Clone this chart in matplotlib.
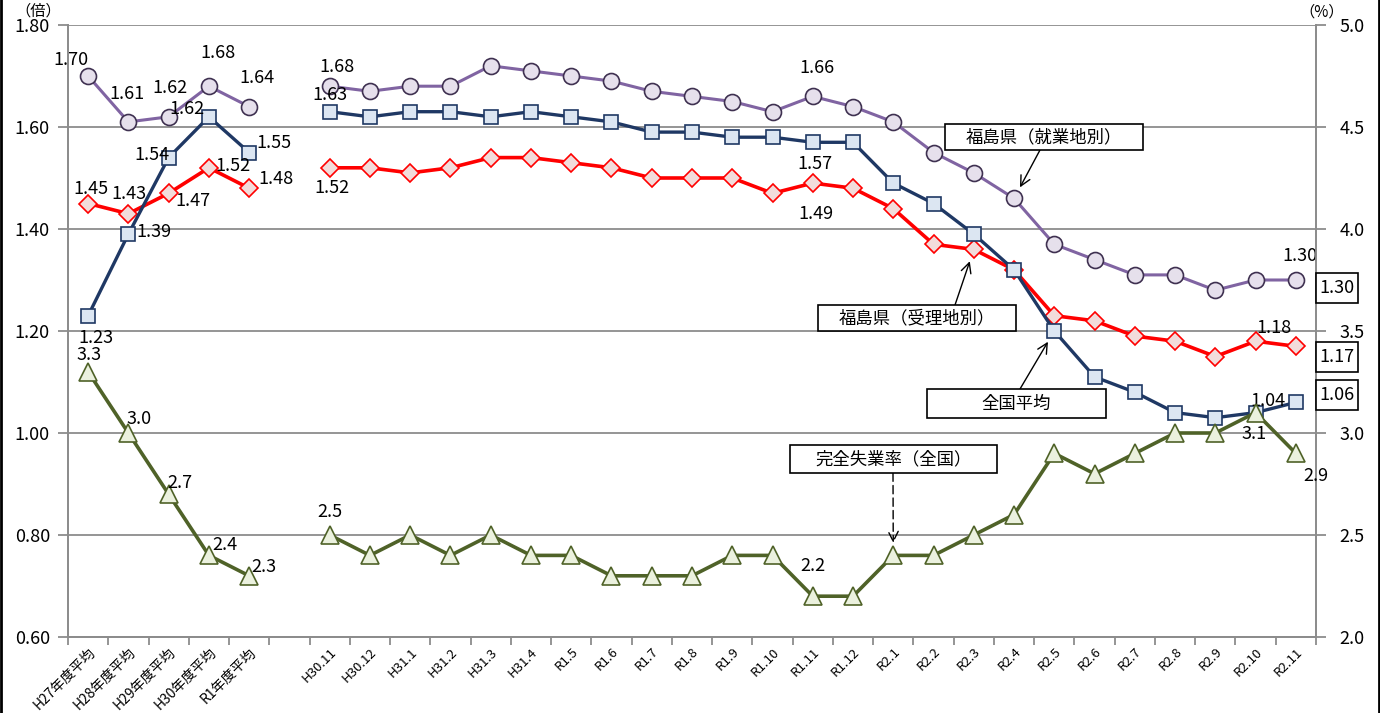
import numpy as np
import matplotlib
matplotlib.use("Agg")
import matplotlib.pyplot as plt
from matplotlib.patches import Rectangle
from matplotlib.lines import Line2D

plt.rcParams['font.family'] = ['Noto Sans CJK JP', 'DejaVu Sans']

categories = ['H27年度平均', 'H28年度平均', 'H29年度平均', 'H30年度平均', 'R1年度平均', '',
              'H30.11', 'H30.12', 'H31.1', 'H31.2', 'H31.3', 'H31.4', 'R1.5', 'R1.6',
              'R1.7', 'R1.8', 'R1.9', 'R1.10', 'R1.11', 'R1.12', 'R2.1', 'R2.2', 'R2.3',
              'R2.4', 'R2.5', 'R2.6', 'R2.7', 'R2.8', 'R2.9', 'R2.10', 'R2.11']

nan = np.nan
# 福島県(就業地別)
shugyo = [1.70, 1.61, 1.62, 1.68, 1.64, nan,
          1.68, 1.67, 1.68, 1.68, 1.72, 1.71, 1.70, 1.69, 1.67, 1.66, 1.65, 1.63,
          1.66, 1.64, 1.61, 1.55, 1.51, 1.46, 1.37, 1.34, 1.31, 1.31, 1.28, 1.30, 1.30]
# 全国平均
zenkoku = [1.23, 1.39, 1.54, 1.62, 1.55, nan,
           1.63, 1.62, 1.63, 1.63, 1.62, 1.63, 1.62, 1.61, 1.59, 1.59, 1.58, 1.58,
           1.57, 1.57, 1.49, 1.45, 1.39, 1.32, 1.20, 1.11, 1.08, 1.04, 1.03, 1.04, 1.06]
# 福島県(受理地別)
juri = [1.45, 1.43, 1.47, 1.52, 1.48, nan,
        1.52, 1.52, 1.51, 1.52, 1.54, 1.54, 1.53, 1.52, 1.50, 1.50, 1.50, 1.47,
        1.49, 1.48, 1.44, 1.37, 1.36, 1.32, 1.23, 1.22, 1.19, 1.18, 1.15, 1.18, 1.17]
# 完全失業率(全国) %
shitsugyo = [3.3, 3.0, 2.7, 2.4, 2.3, nan,
             2.5, 2.4, 2.5, 2.4, 2.5, 2.4, 2.4, 2.3, 2.3, 2.3, 2.4, 2.4,
             2.2, 2.2, 2.4, 2.4, 2.5, 2.6, 2.9, 2.8, 2.9, 3.0, 3.0, 3.1, 2.9]

W, H = 1380, 713
fig = plt.figure(figsize=(W / 100, H / 100), dpi=100)
ax = fig.add_axes([68 / W, (H - 637) / H, (1316 - 68) / W, (637 - 25) / H])
ax2 = ax.twinx()

x = np.arange(len(categories))

c_pur, c_blu, c_red, c_grn = '#8064A2', '#1F3864', '#FF0000', '#4F6228'
ax.plot(x, shugyo, color=c_pur, lw=2.2, marker='o', ms=11.5,
        mfc='#E6E0EC', mec='#3F3151', mew=1.2, zorder=3)
ax.plot(x, juri, color=c_red, lw=2.6, marker='D', ms=9.5,
        mfc='#F2DCDB', mec=c_red, mew=1.2, zorder=4)
ax.plot(x, zenkoku, color=c_blu, lw=2.4, marker='s', ms=10,
        mfc='#DCE6F2', mec=c_blu, mew=1.2, zorder=5)
ax2.plot(x, shitsugyo, color=c_grn, lw=2.6, marker='^', ms=13,
         mfc='#EBF1DE', mec=c_grn, mew=1.2, zorder=3)

ax.set_xlim(-0.5, len(categories) - 0.5)
ax.set_ylim(0.6, 1.8)
ax2.set_ylim(2.0, 5.0)
ax.set_yticks(np.arange(0.6, 1.81, 0.2))
ax.set_yticklabels([f'{v:.2f}' for v in np.arange(0.6, 1.81, 0.2)], fontsize=13)
ax2.set_yticks(np.arange(2.0, 5.01, 0.5))
ax2.set_yticklabels([f'{v:.1f}' for v in np.arange(2.0, 5.01, 0.5)], fontsize=13)

ax.grid(axis='y', color='#8C8C8C', lw=1.3)
ax.set_axisbelow(True)
for a in (ax, ax2):
    a.spines['top'].set_visible(False)
    for s in ('left', 'right', 'bottom'):
        a.spines[s].set_color('#8C8C8C')
        a.spines[s].set_linewidth(1.3)
ax.tick_params(axis='y', length=7, color='#8C8C8C', width=1.3, pad=6)
ax2.tick_params(axis='y', length=7, color='#8C8C8C', width=1.3, pad=10)

ax.set_xticks(x)
ax.set_xticklabels(categories, rotation=45, ha='right', rotation_mode='anchor')
for i, t in enumerate(ax.get_xticklabels()):
    t.set_fontsize(10 if i < 5 else 9.5)
ax.tick_params(axis='x', which='major', length=0, pad=6)
ax.set_xticks(np.arange(-0.5, len(categories), 1), minor=True)
ax.tick_params(axis='x', which='minor', length=6, color='#8C8C8C', width=1.3)

fig.text(38 / W, 1 - 11 / H, '（倍）', fontsize=11, ha='center', va='center')
fig.text(1322 / W, 1 - 12 / H, '（%）', fontsize=11, ha='center', va='center')


def lab(a, series, i, dx, dy, fmt):
    a.annotate(fmt.format(series[i]), (x[i], series[i]), xytext=(dx, dy),
               textcoords='offset pixels', ha='center', va='center',
               fontsize=13, zorder=10)


# data labels (index, dx, dy)
for i, dx, dy in [(0, -17, 16), (1, -1, 28), (2, 1, 29), (3, 9, 33), (4, 8, 29),
                  (6, 7, 19), (18, 4, 28), (30, 4, 24)]:
    lab(ax, shugyo, i, dx, dy, '{:.2f}')
for i, dx, dy in [(0, 8, -22), (1, 26, 2), (2, -17, 3), (3, -22, 8), (4, 25, 10),
                  (6, 0, 17), (18, 2, -22), (29, 12, 12)]:
    lab(ax, zenkoku, i, dx, dy, '{:.2f}')
for i, dx, dy in [(0, 3, 15), (1, 1, 20), (2, 24, -8), (3, 24, 2), (4, 27, 9),
                  (6, 2, -20), (18, 3, -31), (29, 18, 13)]:
    lab(ax, juri, i, dx, dy, '{:.2f}')
for i, dx, dy in [(0, 1, 17), (1, 11, 14), (2, 11, 11), (3, 16, 10), (4, 15, 9),
                  (6, 0, 23), (18, 0, 30), (29, -2, -21), (30, 20, -23)]:
    lab(ax2, shitsugyo, i, dx, dy, '{:.1f}')

# boxed last values on the right
for series, yc in [(shugyo, 288), (juri, 357), (zenkoku, 395)]:
    fig.patches.append(Rectangle((1316 / W, 1 - (yc + 15) / H), 42 / W, 30 / H,
                                 transform=fig.transFigure, fc='white', ec='black',
                                 lw=1.2, zorder=20))
    fig.text(1337 / W, 1 - yc / H, f'{series[-1]:.2f}', fontsize=13,
             ha='center', va='center', zorder=21)


# callout boxes with arrows
def callout(text, box, start, a, idx, series, style='-'):
    x0, y0, x1, y1 = box
    fig.patches.append(Rectangle((x0 / W, 1 - y1 / H), (x1 - x0) / W, (y1 - y0) / H,
                                 transform=fig.transFigure, fc='white', ec='black',
                                 lw=1.2, zorder=20))
    fig.text((x0 + x1) / 2 / W, 1 - (y0 + y1) / 2 / H, text, fontsize=12.5,
             ha='center', va='center', zorder=21)
    a.annotate('', xy=(x[idx], series[idx]), xycoords='data',
               xytext=(start[0], H - start[1]), textcoords='figure pixels',
               arrowprops=dict(arrowstyle='->', color='black', lw=1.0,
                               linestyle=style, shrinkA=0, shrinkB=9,
                               mutation_scale=18), zorder=19)


callout('福島県（就業地別）', (945, 124, 1143, 150), (1040, 150), ax, 23, shugyo)
callout('福島県（受理地別）', (818, 305, 1016, 331), (955, 305), ax, 22, juri)
callout('全国平均', (927, 389, 1106, 418), (1020, 389), ax, 24, zenkoku)
callout('完全失業率（全国）', (790, 445, 997, 473), (893, 473), ax2, 20, shitsugyo,
        style=(0, (6, 3)))

# dark frame on the left/right edges of the picture
fig.add_artist(Line2D([0.001, 0.001], [0, 1], color='black', lw=2,
                      transform=fig.transFigure))
fig.add_artist(Line2D([0.999, 0.999], [0, 1], color='black', lw=2,
                      transform=fig.transFigure))

fig.savefig('out.png', dpi=100)
